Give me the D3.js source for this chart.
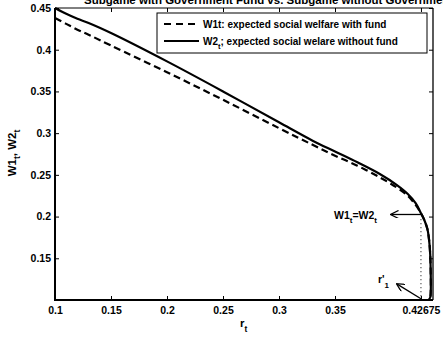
<!DOCTYPE html>
<html>
<head>
<meta charset="utf-8">
<script src="https://cdn.jsdelivr.net/npm/d3@7"></script>
<style>
  body { margin: 0; background: #fff; }
  text { font-family: "Liberation Sans", Arial, sans-serif; font-weight: bold; }
</style>
</head>
<body>
<svg id="chart"></svg>
<script>
// values
var rValues = [0.1, 0.11, 0.12, 0.13, 0.15, 0.2, 0.25, 0.3, 0.33, 0.35, 0.37, 0.39, 0.405, 0.415, 0.422, 0.42675, 0.43, 0.4325, 0.434, 0.435, 0.4355, 0.4355, 0.435, 0.4335];
var w2Values = [0.45, 0.443, 0.437, 0.432, 0.42, 0.386, 0.350, 0.313, 0.291, 0.278, 0.265, 0.251, 0.238, 0.227, 0.216, 0.204, 0.195, 0.185, 0.172, 0.155, 0.13, 0.11, 0.103, 0.1];
var w1Values = [0.438, 0.431, 0.424, 0.418, 0.405, 0.373, 0.340, 0.306, 0.286, 0.273, 0.261, 0.247, 0.235, 0.225, 0.214, 0.204, 0.195, 0.185, 0.172, 0.155, 0.13, 0.11, 0.103, 0.1];
var xTicks = [0.1, 0.15, 0.2, 0.25, 0.3, 0.35, 0.42675];
var xTickLabels = ["0.1", "0.15", "0.2", "0.25", "0.3", "0.35", "0.42675"];
var yTicks = [0.15, 0.2, 0.25, 0.3, 0.35, 0.4, 0.45];
var yTickLabels = ["0.15", "0.2", "0.25", "0.3", "0.35", "0.4", "0.45"];
var rCross = 0.42675, wCross = 0.204;
// annotation arrows: [from r, from w, to r, to w]
var arrowEq = [0.42675, 0.2025, 0.4003, 0.2025];
var arrowR = [0.42675, 0.1015, 0.4055, 0.119];

var width = 443, height = 340;
var m = { left: 55, right: 433, top: 8, bottom: 300 };

var svg = d3.select("#chart").attr("width", width).attr("height", height);

var x = d3.scaleLinear().domain([0.1, 0.4375]).range([m.left, m.right]);
var y = d3.scaleLinear().domain([0.1, 0.45]).range([m.bottom, m.top]);

svg.append("defs").append("marker")
  .attr("id", "head")
  .attr("viewBox", "0 0 10 10")
  .attr("refX", 9).attr("refY", 5)
  .attr("markerWidth", 9).attr("markerHeight", 8)
  .attr("markerUnits", "userSpaceOnUse")
  .attr("orient", "auto")
  .append("path")
  .attr("d", "M0,0 L10,5 L0,10")
  .attr("fill", "none")
  .attr("stroke", "#000")
  .attr("stroke-width", 1.6);

// title, mostly clipped at top like the reference
svg.append("text")
  .attr("x", 84).attr("y", 4)
  .style("font-size", "11.5px")
  .text("Subgame with Government Fund vs. Subgame without Government Fund");

// axes
var xaxis = d3.axisBottom(x).tickValues(xTicks)
  .tickFormat(function (d, i) { return xTickLabels[i]; })
  .tickSize(-4).tickPadding(7);
var gx = svg.append("g")
  .attr("transform", "translate(0," + m.bottom + ")")
  .call(xaxis);
gx.select(".domain").remove();
gx.selectAll("text").style("font-size", "10.5px").attr("fill", "#000");

var yaxis = d3.axisLeft(y).tickValues(yTicks)
  .tickFormat(function (d, i) { return yTickLabels[i]; })
  .tickSize(-4).tickPadding(4);
var gy = svg.append("g")
  .attr("transform", "translate(" + m.left + ",0)")
  .call(yaxis);
gy.select(".domain").remove();
gy.selectAll("text").style("font-size", "10.5px").attr("fill", "#000");

var gt = svg.append("g")
  .attr("transform", "translate(0," + m.top + ")")
  .call(d3.axisTop(x).tickValues(xTicks).tickSize(-4).tickFormat(""));
gt.select(".domain").remove();
var gr = svg.append("g")
  .attr("transform", "translate(" + m.right + ",0)")
  .call(d3.axisRight(y).tickValues(yTicks).tickSize(-4).tickFormat(""));
gr.select(".domain").remove();

// box
svg.append("line").attr("x1", m.left).attr("x2", m.right).attr("y1", m.top).attr("y2", m.top)
  .attr("stroke", "#000").attr("stroke-width", 1);
svg.append("line").attr("x1", m.right).attr("x2", m.right).attr("y1", m.top).attr("y2", m.bottom)
  .attr("stroke", "#000").attr("stroke-width", 1.3);
svg.append("line").attr("x1", m.left).attr("x2", m.left).attr("y1", m.top).attr("y2", m.bottom + 1)
  .attr("stroke", "#000").attr("stroke-width", 2);
svg.append("line").attr("x1", m.left - 1).attr("x2", m.right).attr("y1", m.bottom).attr("y2", m.bottom)
  .attr("stroke", "#000").attr("stroke-width", 2);

// axis labels
var xl = svg.append("text")
  .attr("x", 240).attr("y", 327)
  .style("font-size", "11.5px");
xl.append("tspan").text("r");
xl.append("tspan").attr("dy", 5).style("font-size", "8.5px").text("t");

var yl = svg.append("text")
  .attr("transform", "translate(16,153)rotate(-90)")
  .attr("text-anchor", "middle")
  .style("font-size", "11.5px");
yl.append("tspan").text("W1");
yl.append("tspan").attr("dy", 4).style("font-size", "8.5px").text("t");
yl.append("tspan").attr("dy", -4).text(", W2");
yl.append("tspan").attr("dy", 4).style("font-size", "8.5px").text("t");

// curves
var pts1 = rValues.map(function (r, i) { return [r, w1Values[i]]; });
var pts2 = rValues.map(function (r, i) { return [r, w2Values[i]]; });
var line = d3.line()
  .x(function (d) { return x(d[0]); })
  .y(function (d) { return y(d[1]); })
  .curve(d3.curveCatmullRom.alpha(0.5));

svg.append("path")
  .attr("d", line(pts1))
  .attr("fill", "none").attr("stroke", "#000")
  .attr("stroke-width", 2.2).attr("stroke-dasharray", "7,4");
svg.append("path")
  .attr("d", line(pts2))
  .attr("fill", "none").attr("stroke", "#000")
  .attr("stroke-width", 2.2);

// dotted drop line
svg.append("line")
  .attr("x1", x(rCross)).attr("x2", x(rCross))
  .attr("y1", y(wCross) + 6).attr("y2", y(0.1))
  .attr("stroke", "#000").attr("stroke-width", 1).attr("stroke-dasharray", "1,3");

// annotations
svg.append("line")
  .attr("x1", x(arrowEq[0])).attr("y1", y(arrowEq[1]))
  .attr("x2", x(arrowEq[2])).attr("y2", y(arrowEq[3]))
  .attr("stroke", "#000").attr("stroke-width", 1.3).attr("marker-end", "url(#head)");
var t1 = svg.append("text").attr("x", 334).attr("y", 219).style("font-size", "10.5px");
t1.append("tspan").text("W1");
t1.append("tspan").attr("dy", 4).style("font-size", "8px").text("t");
t1.append("tspan").attr("dy", -4).text("=W2");
t1.append("tspan").attr("dy", 4).style("font-size", "8px").text("t");

svg.append("line")
  .attr("x1", x(arrowR[0])).attr("y1", y(arrowR[1]))
  .attr("x2", x(arrowR[2])).attr("y2", y(arrowR[3]))
  .attr("stroke", "#000").attr("stroke-width", 1.3).attr("marker-end", "url(#head)");
var t2 = svg.append("text").attr("x", 378).attr("y", 283).style("font-size", "10.5px");
t2.append("tspan").text("r'");
t2.append("tspan").attr("dy", 5).style("font-size", "8px").text("1");

// legend
var lg = svg.append("g");
lg.append("rect")
  .attr("x", 157).attr("y", 13).attr("width", 270).attr("height", 40)
  .attr("fill", "#fff").attr("stroke", "#000").attr("stroke-width", 1);
lg.append("line").attr("x1", 164).attr("x2", 199).attr("y1", 24).attr("y2", 24)
  .attr("stroke", "#000").attr("stroke-width", 2.2).attr("stroke-dasharray", "7,5");
lg.append("text").attr("x", 203).attr("y", 27.5).style("font-size", "10px")
  .text("W1t: expected social welfare with fund");
lg.append("line").attr("x1", 164).attr("x2", 199).attr("y1", 41).attr("y2", 41)
  .attr("stroke", "#000").attr("stroke-width", 2.2);
var lt = lg.append("text").attr("x", 203).attr("y", 44.5).style("font-size", "10px");
lt.append("tspan").text("W2");
lt.append("tspan").attr("dy", 4).style("font-size", "7.5px").text("t");
lt.append("tspan").attr("dy", -4).text("; expected social welare without fund");
</script>
</body>
</html>
